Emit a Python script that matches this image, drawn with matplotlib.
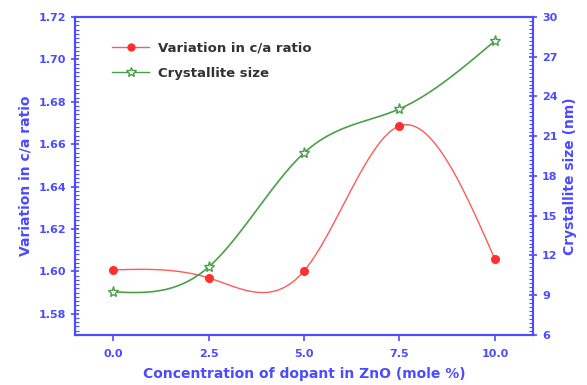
import numpy as np
import matplotlib.pyplot as plt
from matplotlib.ticker import MultipleLocator
from matplotlib.lines import Line2D

conc = [0.0, 2.5, 5.0, 7.5, 10.0]
ca_ratio = [1.6007, 1.5969, 1.6002, 1.6686, 1.6058]
cryst_size = [9.25, 11.13, 19.74, 23.06, 28.19]

BLUE = '#4b4bff'
RED = '#ff3030'
GREEN = '#4aa04a'


def natural_spline(x, y, n=200):
    # plain natural cubic spline, just for drawing smooth connecting lines
    x = np.asarray(x, float)
    y = np.asarray(y, float)
    k = len(x)
    h = np.diff(x)
    A = np.zeros((k, k))
    r = np.zeros(k)
    A[0, 0] = A[-1, -1] = 1
    for i in range(1, k - 1):
        A[i, i - 1] = h[i - 1]
        A[i, i] = 2 * (h[i - 1] + h[i])
        A[i, i + 1] = h[i]
        r[i] = 3 * ((y[i + 1] - y[i]) / h[i] - (y[i] - y[i - 1]) / h[i - 1])
    c = np.linalg.solve(A, r)
    b = (y[1:] - y[:-1]) / h - h * (2 * c[:-1] + c[1:]) / 3
    d = (c[1:] - c[:-1]) / (3 * h)
    xs = np.linspace(x[0], x[-1], n)
    idx = np.clip(np.searchsorted(x, xs) - 1, 0, k - 2)
    dx = xs - x[idx]
    ys = y[idx] + b[idx] * dx + c[idx] * dx ** 2 + d[idx] * dx ** 3
    return xs, ys


fig, ax = plt.subplots(figsize=(5.87, 3.85), dpi=100)
fig.subplots_adjust(left=0.128, right=0.908, top=0.956, bottom=0.13)
ax2 = ax.twinx()

xs, ys = natural_spline(conc, ca_ratio)
ax.plot(xs, ys, color='#ff5a5a', lw=1.0)
ax.plot(conc, ca_ratio, 'o', color=RED, ms=5.5)

xs2, ys2 = natural_spline(conc, cryst_size)
ax2.plot(xs2, ys2, color=GREEN, lw=1.2)
ax2.plot(conc, cryst_size, '*', mfc='white', mec=GREEN, ms=8, mew=1.0)

ax.set_xlim(-1.0, 11.0)
ax.set_ylim(1.57, 1.72)
ax2.set_ylim(6, 30)
ax.set_xticks(conc)
ax.xaxis.set_major_formatter(plt.FuncFormatter(lambda v, p: f'{v:.1f}'))
ax.yaxis.set_major_locator(MultipleLocator(0.02))
ax.yaxis.set_minor_locator(MultipleLocator(0.002))
ax.yaxis.set_major_formatter(plt.FuncFormatter(lambda v, p: f'{v:.2f}'))
ax2.yaxis.set_major_locator(MultipleLocator(3))
ax2.yaxis.set_minor_locator(MultipleLocator(0.3))

for a in (ax, ax2):
    for s in a.spines.values():
        s.set_color(BLUE)
        s.set_linewidth(1.5)
ax.tick_params(axis='y', which='major', direction='inout', length=6, width=1.2,
               colors=BLUE, labelsize=8)
ax.tick_params(axis='y', which='minor', direction='in', length=3, width=0.8, colors=BLUE)
ax.tick_params(axis='x', which='major', direction='out', length=4, width=1.2,
               colors=BLUE, labelsize=8, pad=6)
ax2.tick_params(axis='y', which='major', direction='inout', length=6, width=1.2,
                colors=BLUE, labelsize=8)
ax2.tick_params(axis='y', which='minor', direction='in', length=3, width=0.8, colors=BLUE)
for lab in ax.get_xticklabels() + ax.get_yticklabels() + ax2.get_yticklabels():
    lab.set_fontweight('bold')

ax.set_xlabel('Concentration of dopant in ZnO (mole %)', color=BLUE,
              fontsize=10, fontweight='bold', labelpad=6)
ax.set_ylabel('Variation in c/a ratio', color=BLUE, fontsize=10, fontweight='bold')
ax2.set_ylabel('Crystallite size (nm)', color=BLUE, fontsize=10, fontweight='bold')

handles = [
    Line2D([], [], color='#ff5a5a', marker='o', mfc=RED, mec=RED, ms=5, lw=1.0),
    Line2D([], [], color=GREEN, marker='*', mfc='white', mec=GREEN, ms=7, lw=1.0),
]
leg = ax.legend(handles, ['Variation in c/a ratio', 'Crystallite size'],
                loc='upper left', bbox_to_anchor=(0.055, 0.96), frameon=False,
                prop={'weight': 'bold', 'size': 9.5}, handlelength=2.8,
                handletextpad=0.7, labelspacing=0.95)
for t in leg.get_texts():
    t.set_color('#333333')

fig.savefig('out.png', dpi=100)
